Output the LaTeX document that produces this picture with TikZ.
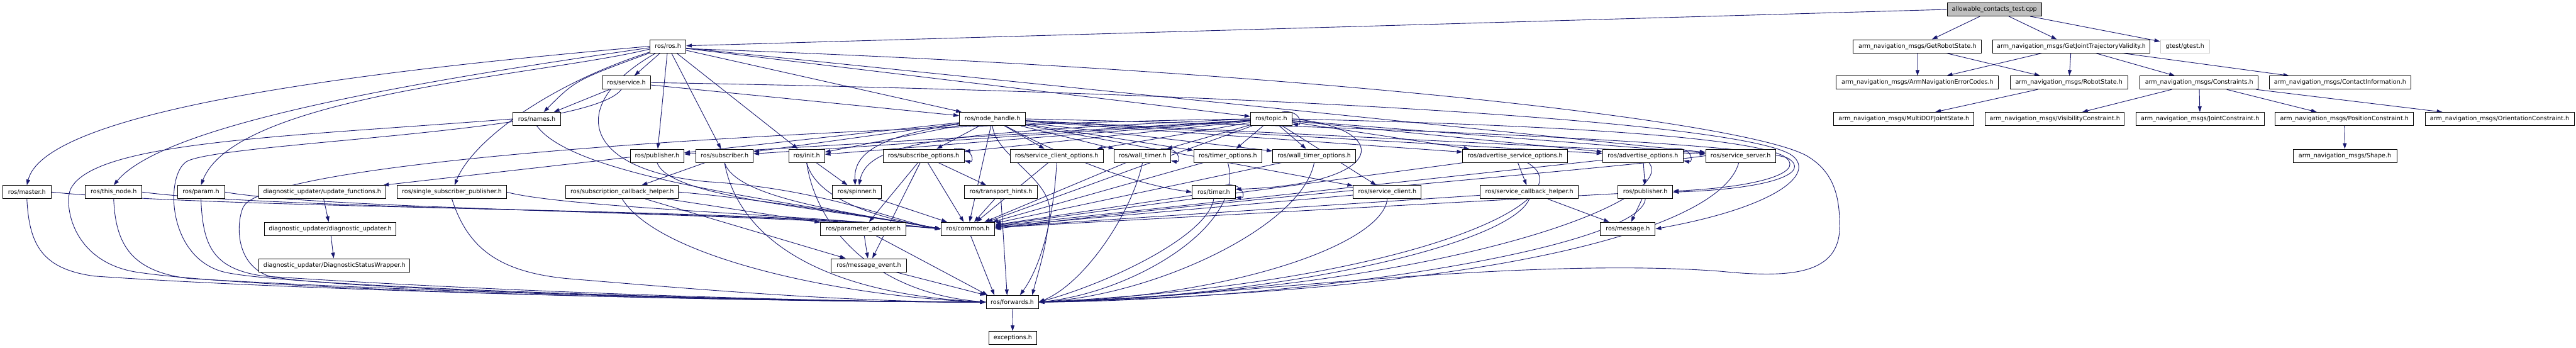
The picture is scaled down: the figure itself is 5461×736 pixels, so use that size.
\documentclass[tikz,border=0pt]{standalone}
\usepackage{fontspec}
\newfontfamily\dvs{DejaVu Sans}
\usetikzlibrary{arrows.meta}
\definecolor{eb}{HTML}{191970}
\pgfdeclarelayer{bg}
\pgfsetlayers{bg,main}
\tikzset{
 fn/.style={draw=black, line width=1.3pt, fill=white, minimum height=28pt, inner xsep=2pt, inner ysep=0pt, font=\dvs\fontsize{12.8pt}{15pt}\selectfont},
 dep/.style={draw=eb, line width=1.2pt, -{Triangle[length=12pt,width=8pt]}},
}
\newcommand{\nd}[5]{\node[fn,minimum width=#4pt] (#1) at (#2,#3) {#5};}
\newcommand{\selfloop}[1]{\draw[dep] ([xshift=-22pt]#1.north east) .. controls +(40,-6) and +(22,4) .. ([yshift=4pt]#1.south east);}
\begin{document}
\begin{tikzpicture}[x=1pt,y=-1pt]
\useasboundingbox (0,0) rectangle (5461,736);
% ---------- nodes ----------
\node[fn,minimum width=200pt,fill=black!25] (cpp) at (4228,20) {allowable\_contacts\_test.cpp};
\nd{getrs}{4065}{98}{272}{arm\_navigation\_msgs/GetRobotState.h}
\nd{gjtv}{4391}{98}{332}{arm\_navigation\_msgs/GetJointTrajectoryValidity.h}
\node[fn,minimum width=104pt,draw=black!20] (gtest) at (4632,98) {gtest/gtest.h};
\nd{errc}{4065}{175}{344}{arm\_navigation\_msgs/ArmNavigationErrorCodes.h}
\nd{rstate}{4386}{175}{249}{arm\_navigation\_msgs/RobotState.h}
\nd{constr}{4662}{175}{251}{arm\_navigation\_msgs/Constraints.h}
\nd{contact}{4961}{175}{300}{arm\_navigation\_msgs/ContactInformation.h}
\nd{multidof}{4036}{252}{298}{arm\_navigation\_msgs/MultiDOFJointState.h}
\nd{visib}{4356}{252}{295}{arm\_navigation\_msgs/VisibilityConstraint.h}
\nd{jointc}{4664}{252}{272}{arm\_navigation\_msgs/JointConstraint.h}
\nd{posc}{4970}{252}{293}{arm\_navigation\_msgs/PositionConstraint.h}
\nd{orient}{5299}{252}{316}{arm\_navigation\_msgs/OrientationConstraint.h}
\nd{shape}{4971}{330}{220}{arm\_navigation\_msgs/Shape.h}
\nd{ros}{1416}{98}{76}{ros/ros.h}
\nd{service}{1328}{175}{103}{ros/service.h}
\nd{names}{1138}{252}{102}{ros/names.h}
\nd{nh}{2104}{252}{140}{ros/node\_handle.h}
\nd{topic}{2695}{252}{88}{ros/topic.h}
\nd{pubL}{1393}{330}{114}{ros/publisher.h}
\nd{sub}{1536}{330}{121}{ros/subscriber.h}
\nd{init}{1710}{330}{76}{ros/init.h}
\nd{subopt}{1958}{330}{172}{ros/subscribe\_options.h}
\nd{scopt}{2240}{330}{197}{ros/service\_client\_options.h}
\nd{wtimer}{2422}{330}{120}{ros/wall\_timer.h}
\nd{topt}{2603}{330}{145}{ros/timer\_options.h}
\nd{wtopt}{2786}{330}{176}{ros/wall\_timer\_options.h}
\nd{asopt}{3212}{330}{222}{ros/advertise\_service\_options.h}
\nd{aopt}{3483}{330}{171}{ros/advertise\_options.h}
\nd{ssrv}{3690}{330}{148}{ros/service\_server.h}
\nd{master}{57}{407}{103}{ros/master.h}
\nd{thisnode}{241}{407}{120}{ros/this\_node.h}
\nd{param}{426}{407}{100}{ros/param.h}
\nd{updfn}{683}{407}{269}{diagnostic\_updater/update\_functions.h}
\nd{ssp}{958}{407}{231}{ros/single\_subscriber\_publisher.h}
\nd{sch}{1319}{407}{239}{ros/subscription\_callback\_helper.h}
\nd{spinner}{1817}{407}{104}{ros/spinner.h}
\nd{thints}{2122}{407}{155}{ros/transport\_hints.h}
\nd{timer}{2573}{407}{91}{ros/timer.h}
\nd{sclient}{2941}{407}{144}{ros/service\_client.h}
\nd{scbh}{3242}{407}{208}{ros/service\_callback\_helper.h}
\nd{pubR}{3488}{407}{116}{ros/publisher.h}
\nd{diagupd}{700}{485}{279}{diagnostic\_updater/diagnostic\_updater.h}
\nd{padapt}{1830}{485}{181}{ros/parameter\_adapter.h}
\nd{common}{2052}{485}{114}{ros/common.h}
\nd{message}{3451}{485}{116}{ros/message.h}
\nd{dsw}{709}{562}{320}{diagnostic\_updater/DiagnosticStatusWrapper.h}
\nd{mevent}{1842}{562}{160}{ros/message\_event.h}
\nd{forwards}{2146}{640}{111}{ros/forwards.h}
\nd{exc}{2147}{716}{102}{exceptions.h}
% ---------- edges ----------
\begin{pgfonlayer}{bg}
\fill[white] (0,0) rectangle (5461,736);
% arm navigation part
\draw[dep] (cpp) -- (getrs);
\draw[dep] (cpp) -- (gjtv);
\draw[dep] (cpp) -- (gtest);
\draw[dep] (getrs) -- (errc);
\draw[dep] (getrs) -- (rstate);
\draw[dep] (gjtv) -- (errc);
\draw[dep] (gjtv) -- (rstate);
\draw[dep] (gjtv) -- (constr);
\draw[dep] (gjtv) -- (contact);
\draw[dep] (rstate) -- (multidof);
\draw[dep] (constr) -- (visib);
\draw[dep] (constr) -- (jointc);
\draw[dep] (constr) -- (posc);
\draw[dep] (constr) -- (orient);
\draw[dep] (posc) -- (shape);
\draw[dep] (cpp.west) -- ([yshift=1pt]ros.east);
% ros.h
\draw[dep] (ros.west) .. controls (900,140) and (100,220) .. (master.north);
\draw[dep] ([yshift=-3pt]ros.west) .. controls (900,170) and (350,260) .. (thisnode.north);
\draw[dep] ([yshift=-6pt]ros.west) .. controls (1150,160) and (500,200) .. (param.north);
\draw[dep] (ros) -- (service);
\draw[dep] (ros) .. controls (1220,170) .. (names);
\draw[dep] (ros) -- (pubL);
\draw[dep] (ros) -- (sub);
\draw[dep] (ros) -- (init);
\draw[dep] (ros) -- (nh);
\draw[dep] (ros) -- (topic);
\draw[dep] (ros) -- (ssrv);
\draw[dep] (ros) .. controls (1160,180) and (1000,300) .. (ssp);
\draw[dep] (ros) .. controls (1200,220) and (1230,360) .. (1500,385) .. controls (1750,400) and (1900,470) .. (common.west);
\draw[dep] ([yshift=-5pt]ros.east) .. controls (2800,150) and (3700,258) .. (3830,330) .. controls (3890,365) and (3900,420) .. (3900,480) .. controls (3900,580) and (3800,590) .. (3650,575) .. controls (3200,540) and (2500,640) .. (forwards.east);
% service.h
\draw[dep] (service) -- (names);
\draw[dep] (service) -- (nh);
\draw[dep] (service.east) .. controls (2600,195) and (3700,255) .. (3800,330) .. controls (3850,370) and (3760,440) .. (message.east);
\draw[dep] (service) .. controls (1250,280) and (500,300) .. (400,340) .. controls (350,360) and (350,540) .. (470,575) .. controls (590,610) and (1700,640) .. (forwards.west);
% names.h
\draw[dep] (names.west) .. controls (600,290) and (200,300) .. (150,400) .. controls (135,430) and (150,560) .. (300,578) .. controls (600,620) and (1700,640) .. (forwards.west);
\draw[dep] (names.south) .. controls (1220,380) and (1700,430) .. (common.west);
% left column nodes
\draw[dep] (master.south) .. controls (62,520) and (90,570) .. (200,585) .. controls (700,620) and (1700,640) .. (forwards.west);
\draw[dep] (thisnode.south) .. controls (245,520) and (280,575) .. (400,590) .. controls (900,620) and (1700,640) .. (forwards.west);
\draw[dep] (param.south) .. controls (430,520) and (450,570) .. (560,585) .. controls (1000,615) and (1700,640) .. (forwards.west);
\draw[dep] (ssp.south) .. controls (990,520) and (1050,575) .. (1200,590) .. controls (1500,615) and (1800,640) .. (forwards.west);
\draw[dep] (master.east) .. controls (500,445) and (1600,440) .. (common.west);
\draw[dep] (thisnode.east) .. controls (600,445) and (1600,445) .. (common.west);
\draw[dep] (param.east) .. controls (700,445) and (1600,450) .. (common.west);
\draw[dep] (ssp.east) .. controls (1200,440) and (1700,455) .. (common.west);
% publisher / subscriber / init
\draw[dep] ([yshift=-3pt]pubL.west) -- ([xshift=-6pt]updfn.north east);
\draw[dep] (pubL.south) .. controls (1420,420) and (1750,440) .. (common.west);
\draw[dep] (sub) -- (sch);
\draw[dep] (sub.south) .. controls (1560,420) and (1800,450) .. (common.west);
\draw[dep] (sub.south) .. controls (1560,480) and (1700,620) .. (forwards.west);
\draw[dep] (init) -- (spinner);
\draw[dep] (init.south) .. controls (1730,420) and (1850,460) .. (common.west);
\draw[dep] (init.south) .. controls (1730,480) and (1850,620) .. (forwards.west);
\draw[dep] (updfn) -- (diagupd);
\draw[dep] (diagupd) -- (dsw);
% subscription callback helper
\draw[dep] (sch) -- (padapt);
\draw[dep] (sch) -- (mevent);
\draw[dep] (sch.east) .. controls (1600,420) and (1850,460) .. (common.west);
\draw[dep] (sch.south) .. controls (1400,550) and (1800,630) .. (forwards.west);
% node_handle.h
\draw[dep] (nh) -- (pubL);
\draw[dep] (nh) -- (sub);
\draw[dep] (nh) -- (init);
\draw[dep] (nh) -- (subopt);
\draw[dep] (nh) -- (scopt);
\draw[dep] (nh) -- (wtimer);
\draw[dep] (nh) -- (topt);
\draw[dep] (nh) -- (wtopt);
\draw[dep] (nh) -- (asopt);
\draw[dep] (nh) -- (aopt);
\draw[dep] (nh) -- (ssrv);
\draw[dep] (nh) -- (sclient);
\draw[dep] (nh) -- (common);
\draw[dep] (nh) .. controls (1850,290) and (1810,330) .. ([xshift=-4pt]spinner.north);
\draw[dep] (nh) .. controls (2250,330) and (2400,390) .. (timer.west);
\draw[dep] (nh.east) .. controls (2800,265) and (3700,300) .. (3790,335) .. controls (3840,365) and (3760,400) .. (pubR.east);
\draw[dep] (nh.south) .. controls (2110,330) and (2230,380) .. (2225,450) .. controls (2220,520) and (2200,580) .. ([xshift=-14pt]forwards.north east);
% topic.h
\selfloop{topic}
\draw[dep] (topic) -- (pubL);
\draw[dep] (topic) -- (sub);
\draw[dep] (topic) -- (init);
\draw[dep] (topic) -- (subopt);
\draw[dep] (topic) -- (scopt);
\draw[dep] (topic) -- (wtimer);
\draw[dep] (topic) -- (topt);
\draw[dep] (topic) -- (wtopt);
\draw[dep] (topic) -- (asopt);
\draw[dep] (topic) -- (aopt);
\draw[dep] (topic) -- (ssrv);
\draw[dep] (topic) -- (sclient);
\draw[dep] (topic) -- (common);
\draw[dep] (topic.west) .. controls (2000,280) and (1840,300) .. ([xshift=4pt]spinner.north);
\draw[dep] (topic.east) .. controls (2950,270) and (2950,390) .. ([yshift=6pt]timer.east);
\draw[dep] (topic.east) .. controls (3300,265) and (3700,290) .. (3780,330) .. controls (3830,360) and (3750,395) .. ([yshift=2pt]pubR.east);
\draw[dep] (topic.west) .. controls (1900,262) and (560,330) .. (515,440) .. controls (500,477) and (500,560) .. (570,585) .. controls (700,615) and (1700,640) .. (forwards.west);
% option headers
\selfloop{subopt}
\draw[dep] (subopt) -- (thints);
\draw[dep] (subopt) -- (common);
\draw[dep] (subopt) -- (mevent);
\draw[dep] (subopt) -- (padapt);
\draw[dep] (scopt) -- (common);
\draw[dep] (scopt.south) .. controls (2235,450) and (2210,560) .. ([xshift=-40pt]forwards.north east);
\selfloop{wtimer}
\draw[dep] (wtimer) -- (common);
\draw[dep] (wtimer.south) .. controls (2400,450) and (2300,600) .. (forwards.east);
\draw[dep] (topt) -- (common);
\draw[dep] (topt.south) .. controls (2640,480) and (2400,620) .. (forwards.east);
\draw[dep] (wtopt) -- (common);
\draw[dep] (wtopt.south) .. controls (2760,480) and (2450,625) .. (forwards.east);
\draw[dep] (asopt) -- (scbh);
\draw[dep] (asopt) -- (common);
\draw[dep] (asopt) .. controls (3370,420) and (3000,600) .. (forwards.east);
\selfloop{aopt}
\draw[dep] (aopt) -- (pubR);
\draw[dep] (aopt) -- (common);
\draw[dep] (aopt) .. controls (3560,420) and (3100,610) .. (forwards.east);
\draw[dep] (ssrv.west) .. controls (3400,360) and (2600,420) .. (common.east);
\draw[dep] (ssrv) .. controls (3650,480) and (3200,615) .. (forwards.east);
% second row right
\selfloop{timer}
\draw[dep] (timer) -- (common);
\draw[dep] (timer.south) .. controls (2560,500) and (2350,600) .. (forwards.east);
\draw[dep] (sclient) -- (common);
\draw[dep] (sclient.south) .. controls (2930,520) and (2600,630) .. (forwards.east);
\draw[dep] (scbh) -- (message);
\draw[dep] (scbh) -- (common);
\draw[dep] (scbh.south) .. controls (3200,520) and (2700,630) .. (forwards.east);
\draw[dep] (pubR) -- (message);
\draw[dep] (pubR) -- (common);
\draw[dep] (pubR.south) .. controls (3480,520) and (2800,635) .. (forwards.east);
\draw[dep] (spinner) -- (common);
\draw[dep] (thints) -- (common);
\draw[dep] (thints.south) -- ([xshift=-11pt]forwards.north);
% lower part
\draw[dep] (padapt) -- (mevent);
\draw[dep] (padapt) -- ([xshift=4pt]forwards.north west);
\draw[dep] (mevent) -- (forwards.north west);
\draw[dep] (common) -- ([xshift=-38pt]forwards.north);
\draw[dep] (forwards) -- (exc);
\end{pgfonlayer}
\end{tikzpicture}
\end{document}
